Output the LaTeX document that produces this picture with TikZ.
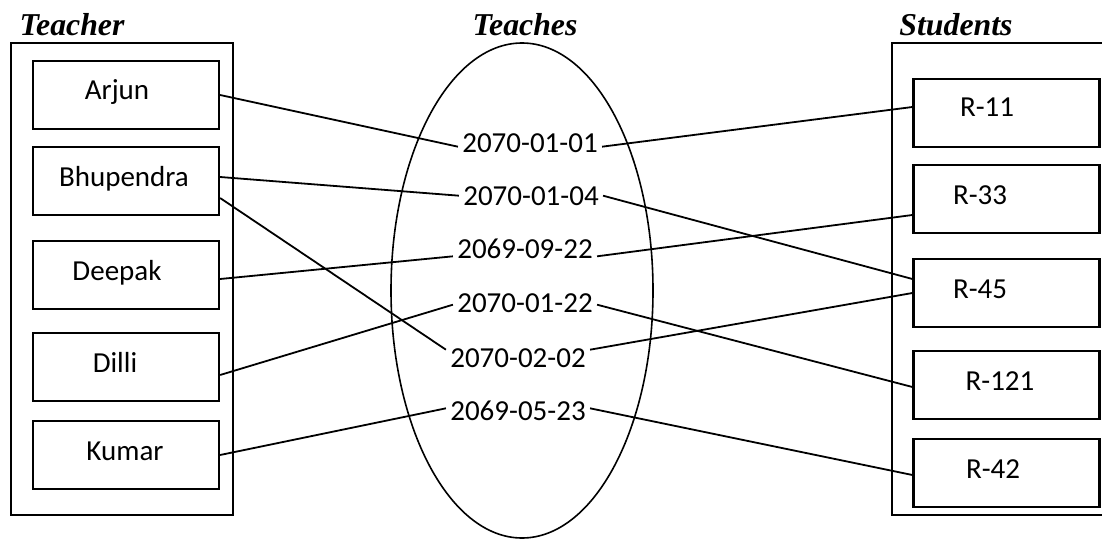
\documentclass[tikz,border=0pt]{standalone}
\usepackage{fontspec}
\setmainfont{Carlito}
\newfontfamily\headfont{Liberation Serif}

\begin{document}
\begin{tikzpicture}[x=0.5pt, y=-0.5pt,
		namebox/.style={draw, line width=1.1pt, minimum width=93pt, minimum height=34pt},
		nametext/.style={anchor=base, font=\fontsize{14.5}{17}\selectfont},
		datetext/.style={anchor=base, inner xsep=2pt, inner ysep=1pt, font=\fontsize{14.5}{17}\selectfont},
		heading/.style={anchor=base, font=\headfont\bfseries\itshape\fontsize{15.9}{18}\selectfont},
		link/.style={line width=0.9pt}]
			\useasboundingbox (0,0) rectangle (1102,540);
			\node[heading] (teacherhead) at (72,36) {Teacher};
			\node[heading] (teacheshead) at (525,36) {Teaches};
			\node[heading] (studenthead) at (956,36) {Students};
			\draw[line width=1.1pt] (11,43) rectangle (233,515);
			\draw[line width=1.1pt] (1104,43) -- (892,43) -- (892,515) -- (1104,515);
			\draw[line width=0.8pt] (522,290.5) ellipse [x radius=65.5pt, y radius=123.75pt];
			\node[namebox] (arjun) at (126,95) {};
			\node[namebox] (bhupendra) at (126,181) {};
			\node[namebox] (deepak) at (126,275) {};
			\node[namebox] (dilli) at (126,367) {};
			\node[namebox] (kumar) at (126,455) {};
			\node[nametext] (arjuntext) at (117,100) {Arjun};
			\node[nametext] (bhupendratext) at (124,186) {Bhupendra};
			\node[nametext] (deepaktext) at (117,280) {Deepak};
			\node[nametext] (dillitext) at (115,372) {Dilli};
			\node[nametext] (kumartext) at (125,460) {Kumar};
			\node[namebox] (r11) at (1006.5,113) {};
			\node[namebox] (r33) at (1006.5,199) {};
			\node[namebox] (r45) at (1006.5,293) {};
			\node[namebox] (r121) at (1006.5,385) {};
			\node[namebox] (r42) at (1006.5,473) {};
			\node[nametext] (r11text) at (987,117) {R-11};
			\node[nametext] (r33text) at (980,204) {R-33};
			\node[nametext] (r45text) at (980,298) {R-45};
			\node[nametext] (r121text) at (1000,390) {R-121};
			\node[nametext] (r42text) at (993,478) {R-42};
			\node[datetext] (d0101) at (530,152) {2070-01-01};
			\node[datetext] (d0104) at (531,205) {2070-01-04};
			\node[datetext] (d0922) at (525,258) {2069-09-22};
			\node[datetext] (d0122) at (525,312) {2070-01-22};
			\node[datetext] (d0202) at (518,367) {2070-02-02};
			\node[datetext] (d0523) at (518,420) {2069-05-23};
			\draw[link] (arjun.east) -- ([yshift=-2pt]d0101.west);
			\draw[link] ([yshift=-2pt]d0101.east) -- ([yshift=3pt]r11.west);
			\draw[link] ([yshift=2pt]bhupendra.east) -- (d0104.west);
			\draw[link] (d0104.east) -- ([yshift=7pt]r45.west);
			\draw[link] ([yshift=-8.5pt]bhupendra.east) -- ([yshift=4pt]d0202.west);
			\draw[link] ([yshift=4pt]d0202.east) -- (r45.west);
			\draw[link] ([yshift=-2pt]deepak.east) -- ([yshift=-4pt]d0922.west);
			\draw[link] ([yshift=-4pt]d0922.east) -- ([yshift=-8pt]r33.west);
			\draw[link] ([yshift=-4pt]dilli.east) -- ([yshift=-1pt]d0122.west);
			\draw[link] ([yshift=-1pt]d0122.east) -- ([yshift=-1pt]r121.west);
			\draw[link] (kumar.east) -- ([yshift=1pt]d0523.west);
			\draw[link] ([yshift=1pt]d0523.east) -- ([yshift=-1pt]r42.west);
		\end{tikzpicture}
\end{document}
